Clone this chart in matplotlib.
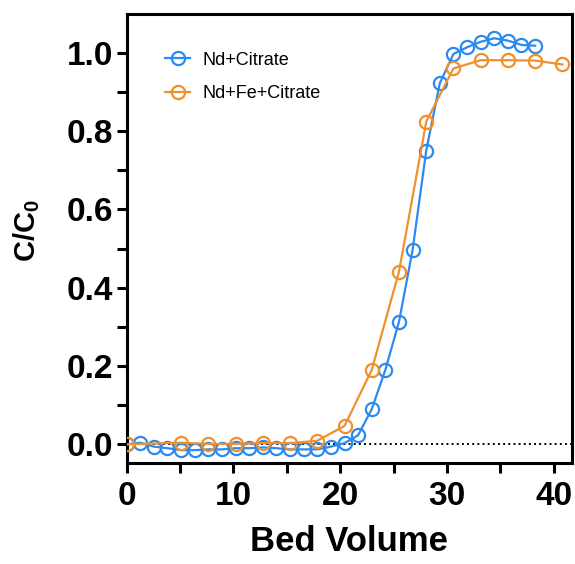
import numpy as np
import matplotlib
matplotlib.use('Agg')
import matplotlib.pyplot as plt
from matplotlib.ticker import MultipleLocator, FormatStrFormatter

plt.rcParams['font.family'] = ['Liberation Sans', 'DejaVu Sans']
plt.rcParams['mathtext.fontset'] = 'custom'
plt.rcParams['mathtext.rm'] = 'Liberation Sans:bold'
plt.rcParams['mathtext.bf'] = 'Liberation Sans:bold'
plt.rcParams['mathtext.default'] = 'bf'

# breakthrough data, bed volumes vs C/C0
bv_nd = [0.0, 1.27, 2.55, 3.82, 5.1, 6.37, 7.65, 8.92, 10.2, 11.47, 12.75,
         14.02, 15.3, 16.57, 17.85, 19.12, 20.4, 21.67, 22.95, 24.22, 25.5,
         26.77, 28.05, 29.32, 30.6, 31.87, 33.15, 34.42, 35.7, 36.97, 38.25]
c_nd = [0.0, 0.004, -0.006, -0.010, -0.015, -0.015, -0.013, -0.013, -0.010,
        -0.010, -0.008, -0.010, -0.013, -0.013, -0.013, -0.006, 0.003, 0.023,
        0.09, 0.19, 0.313, 0.496, 0.75, 0.922, 0.997, 1.014, 1.028, 1.037,
        1.031, 1.020, 1.018]

bv_ndfe = [0.0, 5.1, 7.65, 10.2, 12.75, 15.3, 17.85, 20.4, 22.95, 25.5,
           28.05, 30.6, 33.15, 35.7, 38.25, 40.8]
c_ndfe = [0.0, 0.004, 0.001, 0.001, 0.003, 0.003, 0.009, 0.047, 0.19, 0.441,
          0.824, 0.960, 0.981, 0.981, 0.980, 0.970]

blue = '#2b8af0'
orange = '#f0902c'

fig = plt.figure(figsize=(5.75, 5.64), dpi=100)
ax = fig.add_axes([0.2203, 0.1796, 0.7745, 0.7956])

ax.axhline(0, color='black', ls=':', lw=1.4, zorder=1)

style = dict(marker='o', ms=9.5, mfc='none', mew=1.6, lw=1.6, zorder=3)
ax.plot(bv_nd, c_nd, color=blue, label='Nd+Citrate', **style)
ax.plot(bv_ndfe, c_ndfe, color=orange, label='Nd+Fe+Citrate', **style)

ax.set_xlim(0, 41.7)
ax.set_ylim(-0.047, 1.099)

ax.xaxis.set_major_locator(MultipleLocator(10))
ax.xaxis.set_minor_locator(MultipleLocator(5))
ax.yaxis.set_major_locator(MultipleLocator(0.2))
ax.yaxis.set_minor_locator(MultipleLocator(0.1))
ax.yaxis.set_major_formatter(FormatStrFormatter('%.1f'))

for s in ax.spines.values():
    s.set_linewidth(2.2)
ax.tick_params(which='both', direction='out', length=7, width=2.2)
ax.tick_params(axis='x', which='major', pad=6)
ax.tick_params(axis='y', which='major', pad=3)
for lab in ax.get_xticklabels() + ax.get_yticklabels():
    lab.set_fontsize(24)
    lab.set_fontweight('bold')

ax.set_xlabel('Bed Volume', fontsize=25, fontweight='bold')
ax.xaxis.set_label_coords(0.5, -0.138)
ax.set_ylabel(r'C/C$_0$', fontsize=21, fontweight='bold')
ax.yaxis.set_label_coords(-0.19, 0.518)

ax.legend(loc='upper left', bbox_to_anchor=(0.086, 0.916), frameon=False,
          fontsize=13, handlelength=1.4, handletextpad=0.7, labelspacing=0.9,
          borderpad=0, borderaxespad=0)

fig.savefig('out.png', dpi=100)
